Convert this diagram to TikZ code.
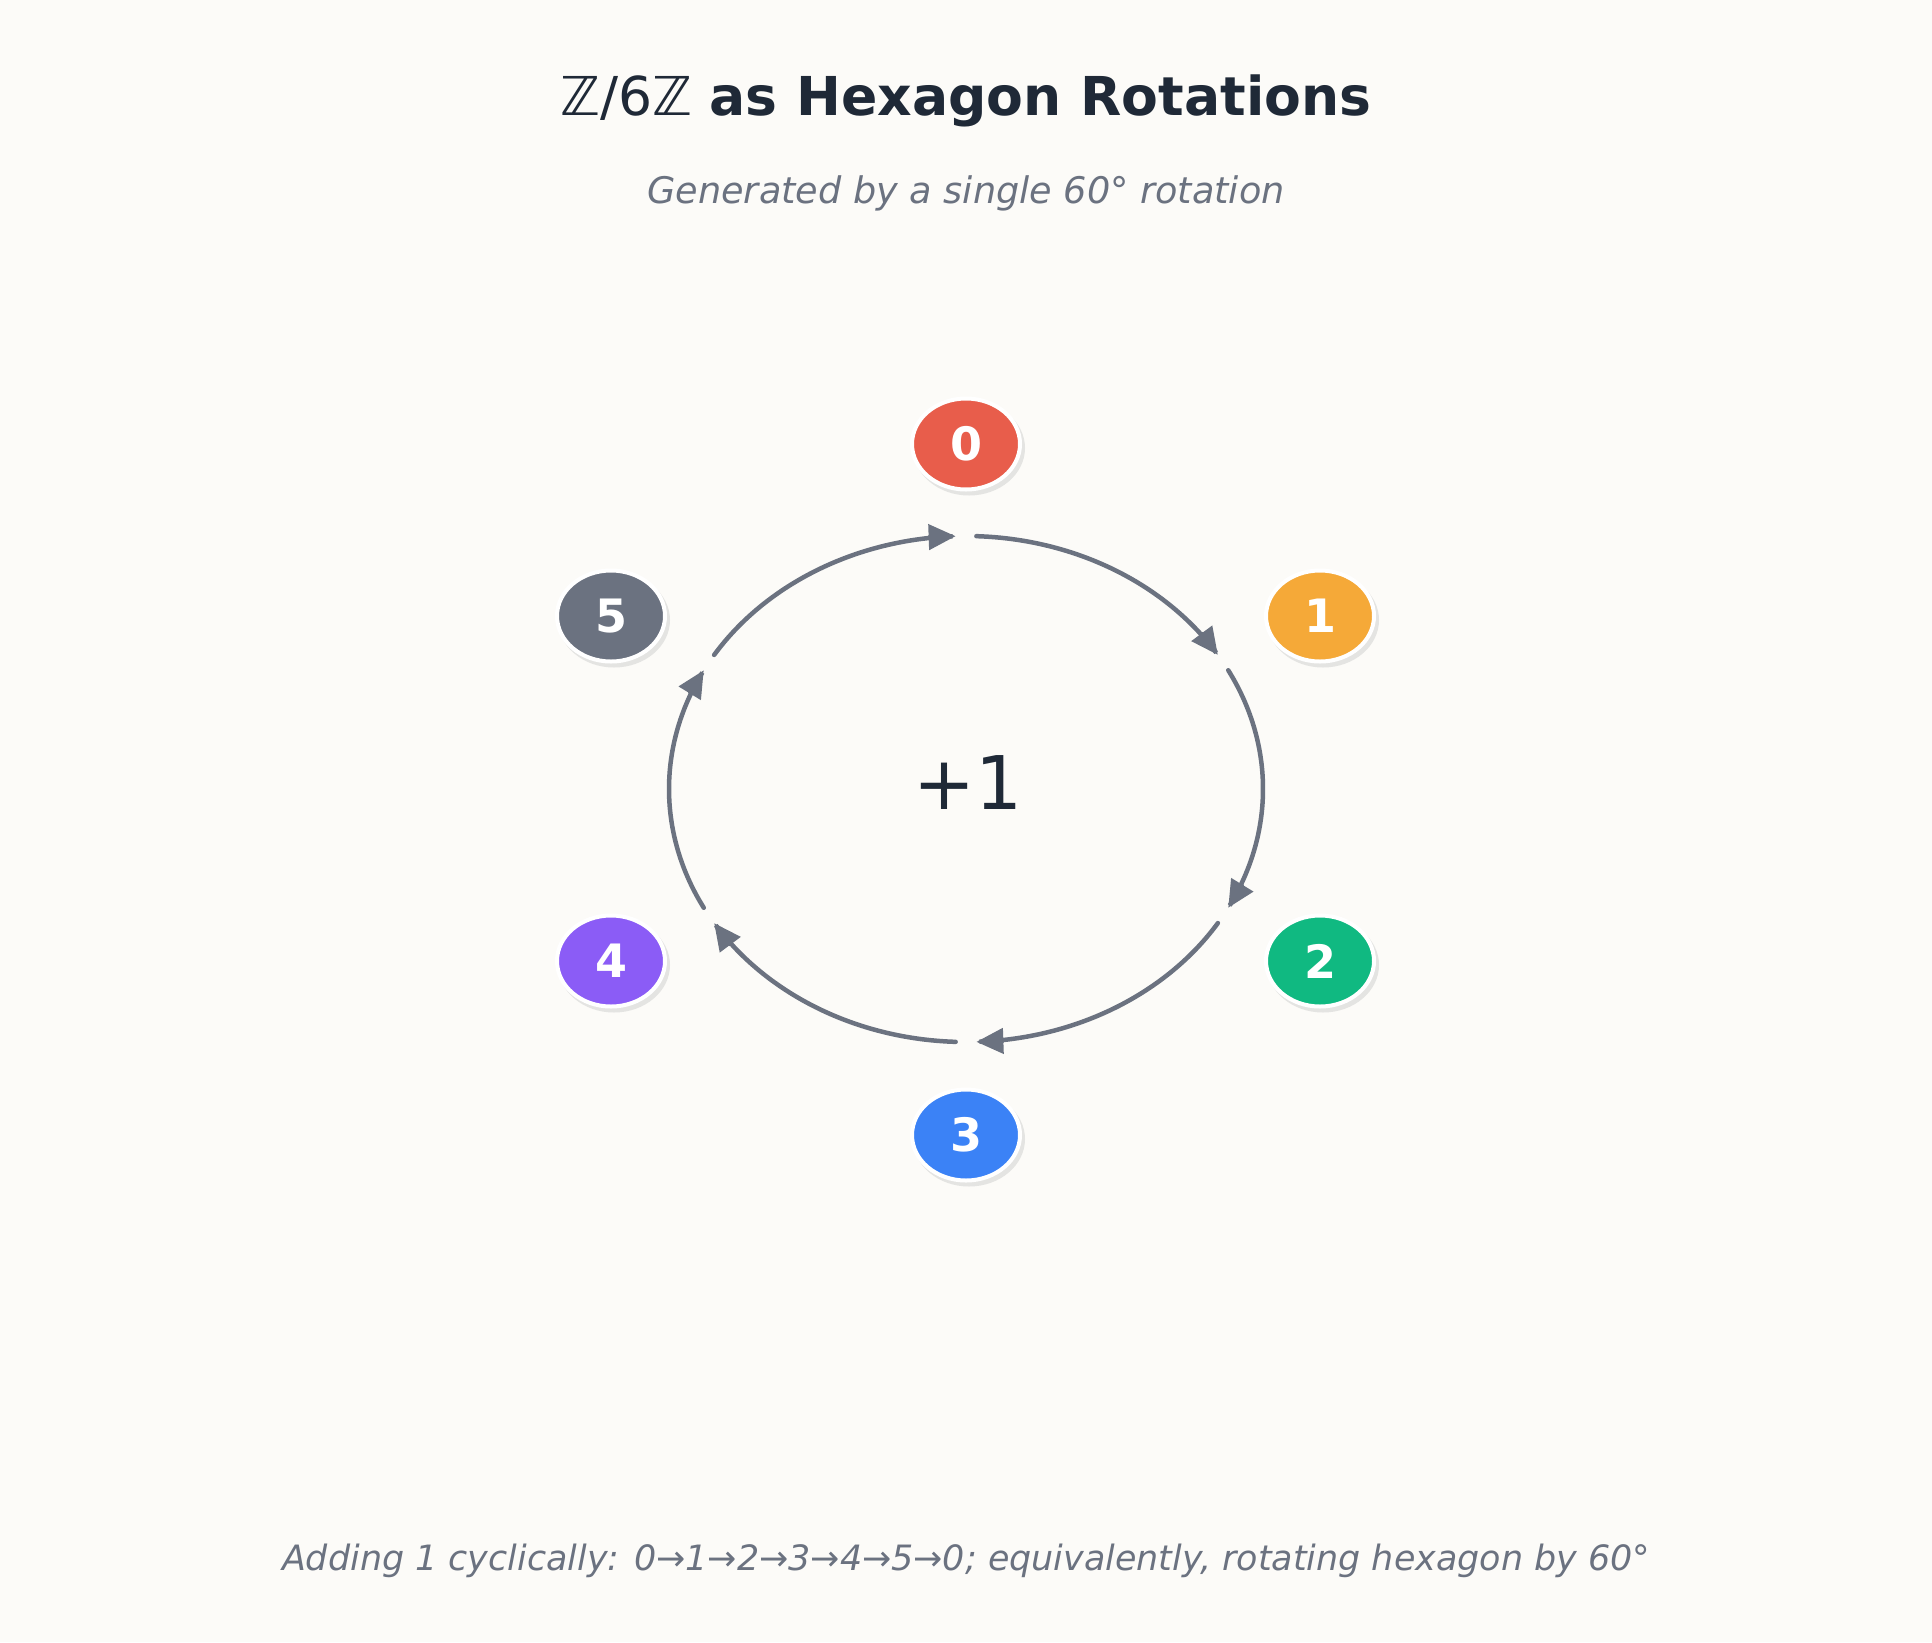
\documentclass[tikz,border=0pt]{standalone}
\usepackage{fontspec}
\setmainfont{DejaVu Sans}
\usetikzlibrary{arrows.meta,shapes.geometric,calc}
\definecolor{bg}{HTML}{FCFBF8}
\definecolor{titlec}{HTML}{1F2937}
\definecolor{greyc}{HTML}{6B7280}
\definecolor{shadowc}{HTML}{E4E4E2}
\definecolor{c0}{HTML}{E85D4B}
\definecolor{c1}{HTML}{F5A938}
\definecolor{c2}{HTML}{10B981}
\definecolor{c3}{HTML}{3B82F6}
\definecolor{c4}{HTML}{8B5CF6}
\definecolor{c5}{HTML}{6B7280}
\begin{document}
\begin{tikzpicture}[x=1pt,y=-1pt,
  num/.style={ellipse, minimum width=108pt, minimum height=91pt, inner sep=0pt,
    draw=white, line width=4pt, text=white,
    font=\fontsize{46}{46}\selectfont\bfseries},
  shad/.style={fill=shadowc},
  cyc/.style={draw=greyc, line width=4.5pt, line cap=round,
    -{Triangle[length=27pt,width=25pt]}}]
\fill[bg] (0,0) rectangle (1932,1642);
\useasboundingbox (0,0) rectangle (1932,1642);
% title texts
\node[anchor=base, text=titlec, font=\fontsize{53.6}{58}\selectfont] (title) at (966,115)
  {ℤ/6ℤ \textbf{as Hexagon Rotations}};
\node[anchor=base, text=greyc, font=\fontsize{36.6}{40}\selectfont\itshape] (sub) at (966,203)
  {Generated by a single 60° rotation};
\node[anchor=base, text=greyc, font=\fontsize{34.9}{40}\selectfont\itshape] (foot) at (966,1570)
  {Adding 1 cyclically: 0→1→2→3→4→5→0; equivalently, rotating hexagon by 60°};
% cycle arcs
\foreach \k in {0,...,5}{
  \pgfmathsetmacro{\sa}{90-60*\k-2}
  \pgfmathsetmacro{\ea}{90-60*(\k+1)+2}
  \draw[cyc] plot[domain=\sa:\ea, samples=80, smooth] ({966+297*cos(\x)},{789-253*sin(\x)});
}
\node[text=titlec, font=\fontsize{74}{74}\selectfont] (plus) at (968,783) {+1};
% shadows
\foreach \px/\py in {966/444,1320/616,1320/961,966/1135,611/961,611/616}{
  \fill[shad] (\px+3,\py+4) ellipse [x radius=56, y radius=47.5];
}
\node[num, fill=c0] (n0) at (966,444) {0};
\node[num, fill=c1] (n1) at (1320,616) {1};
\node[num, fill=c2] (n2) at (1320,961) {2};
\node[num, fill=c3] (n3) at (966,1135) {3};
\node[num, fill=c4] (n4) at (611,961) {4};
\node[num, fill=c5] (n5) at (611,616) {5};
\end{tikzpicture}
\end{document}
